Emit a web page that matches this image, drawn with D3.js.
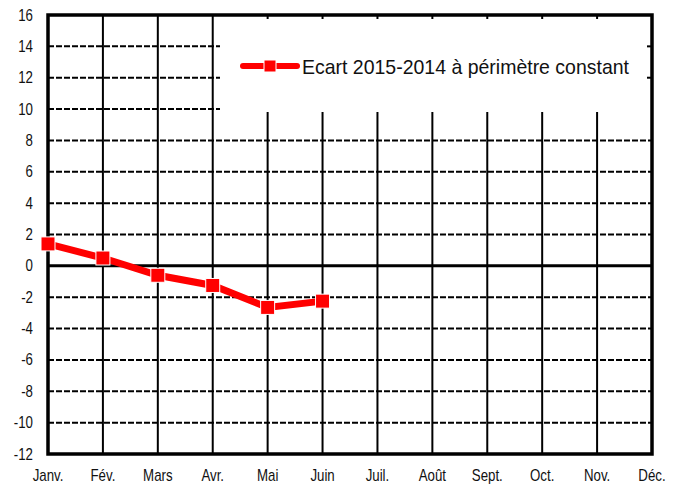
<!DOCTYPE html>
<html>
<head>
<meta charset="utf-8">
<script src="https://cdn.jsdelivr.net/npm/d3@7"></script>
<style>
  body { margin: 0; background: #fff; }
  text { font-family: "Liberation Sans", Arial, sans-serif; fill: #111; }
</style>
</head>
<body>
<svg id="chart" width="679" height="484"></svg>
<script>
var months = ["Janv.", "Fév.", "Mars", "Avr.", "Mai", "Juin", "Juil.", "Août", "Sept.", "Oct.", "Nov.", "Déc."];
var ecart = [1.4, 0.5, -0.6, -1.25, -2.65, -2.25];
var yTicks = [-12, -10, -8, -6, -4, -2, 0, 2, 4, 6, 8, 10, 12, 14, 16];
var legendLabel = "Ecart 2015-2014 à périmètre constant";

var svg = d3.select("#chart");
var margin = {left: 48, right: 27, top: 15, bottom: 30};
var width = +svg.attr("width");
var height = +svg.attr("height");
var narrow = 0.83;

var x = d3.scalePoint()
    .domain(months)
    .range([margin.left, width - margin.right]);

var y = d3.scaleLinear()
    .domain([-12, 16])
    .range([height - margin.bottom, margin.top]);

// legend area (white box over the grid top-right)
var legendBox = {x0: 220, y1: 10};

// horizontal dashed grid
svg.append("g")
  .selectAll("line")
  .data(yTicks.filter(function(d) { return d != 0 && d != -12 && d != 16; }))
  .enter().append("line")
    .attr("x1", x(months[0]))
    .attr("x2", function(d) { return d >= legendBox.y1 ? legendBox.x0 : x(months[11]); })
    .attr("y1", function(d) { return y(d); })
    .attr("y2", function(d) { return y(d); })
    .attr("stroke", "#000")
    .attr("stroke-width", 2)
    .attr("stroke-dasharray", "6,2");

// vertical solid grid
svg.append("g")
  .selectAll("line")
  .data(months.slice(1, 11))
  .enter().append("line")
    .attr("x1", function(d) { return x(d); })
    .attr("x2", function(d) { return x(d); })
    .attr("y1", function(d) { return x(d) > legendBox.x0 ? y(10) + 3 : y(16); })
    .attr("y2", y(-12))
    .attr("stroke", "#000")
    .attr("stroke-width", 2);

// small tick marks at top and right inside the legend area
svg.append("g")
  .selectAll("line")
  .data(months.slice(1, 11).filter(function(d) { return x(d) > legendBox.x0; }))
  .enter().append("line")
    .attr("x1", function(d) { return x(d); })
    .attr("x2", function(d) { return x(d); })
    .attr("y1", y(16))
    .attr("y2", y(16) + 4)
    .attr("stroke", "#000")
    .attr("stroke-width", 2);

svg.append("g")
  .selectAll("line")
  .data([12, 14])
  .enter().append("line")
    .attr("x1", x(months[11]) - 5)
    .attr("x2", x(months[11]))
    .attr("y1", function(d) { return y(d); })
    .attr("y2", function(d) { return y(d); })
    .attr("stroke", "#000")
    .attr("stroke-width", 2);

// zero line
svg.append("line")
    .attr("x1", x(months[0]))
    .attr("x2", x(months[11]))
    .attr("y1", y(0))
    .attr("y2", y(0))
    .attr("stroke", "#000")
    .attr("stroke-width", 3);

// frame
svg.append("rect")
    .attr("x", x(months[0]))
    .attr("y", y(16))
    .attr("width", x(months[11]) - x(months[0]))
    .attr("height", y(-12) - y(16))
    .attr("fill", "none")
    .attr("stroke", "#000")
    .attr("stroke-width", 3.5);

// y labels
svg.append("g")
  .selectAll("text")
  .data(yTicks)
  .enter().append("text")
    .attr("transform", function(d) { return "translate(33," + (y(d) + 5.5) + ") scale(" + narrow + ",1)"; })
    .attr("text-anchor", "end")
    .attr("font-size", 16)
    .text(function(d) { return d; });

// x labels
svg.append("g")
  .selectAll("text")
  .data(months)
  .enter().append("text")
    .attr("transform", function(d) { return "translate(" + x(d) + ",481) scale(" + narrow + ",1)"; })
    .attr("text-anchor", "middle")
    .attr("font-size", 16)
    .text(function(d) { return d; });

// series
var line = d3.line()
    .x(function(d, i) { return x(months[i]); })
    .y(function(d) { return y(d); });

svg.append("path")
    .datum(ecart)
    .attr("d", line)
    .attr("fill", "none")
    .attr("stroke", "#ff0000")
    .attr("stroke-width", 7);

svg.append("g")
  .selectAll("rect")
  .data(ecart)
  .enter().append("rect")
    .attr("x", function(d, i) { return x(months[i]) - 7; })
    .attr("y", function(d) { return y(d) - 7; })
    .attr("width", 14)
    .attr("height", 14)
    .attr("fill", "#ff0000")
    .attr("stroke", "#fff")
    .attr("stroke-width", 1);

// legend
var lg = svg.append("g").attr("transform", "translate(243,66)");
lg.append("line")
    .attr("x1", 0).attr("x2", 54)
    .attr("y1", 0).attr("y2", 0)
    .attr("stroke", "#ff0000")
    .attr("stroke-width", 6)
    .attr("stroke-linecap", "round");
lg.append("rect")
    .attr("x", 21).attr("y", -6)
    .attr("width", 12).attr("height", 12)
    .attr("fill", "#ff0000")
    .attr("stroke", "#fff")
    .attr("stroke-width", 1);
lg.append("text")
    .attr("x", 59)
    .attr("y", 8)
    .attr("font-size", 21)
    .attr("textLength", 327)
    .attr("lengthAdjust", "spacingAndGlyphs")
    .text(legendLabel);
</script>
</body>
</html>
